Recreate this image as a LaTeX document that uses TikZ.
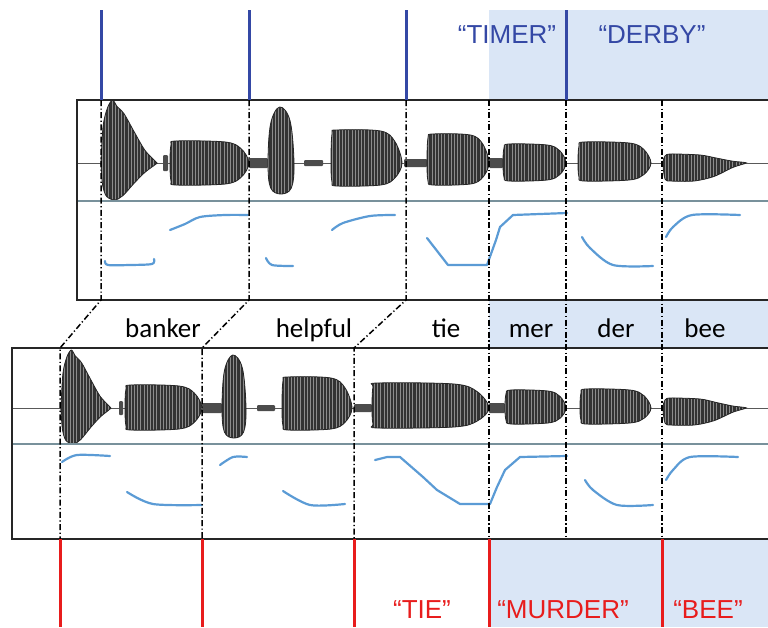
\documentclass[tikz,border=0pt]{standalone}
\usepackage{fontspec}
\setmainfont{Liberation Sans}
\newfontfamily\syllfont{Carlito}
\usetikzlibrary{positioning,calc,patterns.meta}

\definecolor{wordblue}{RGB}{52,72,165}
\definecolor{wordred}{RGB}{232,28,28}
\definecolor{focus}{RGB}{218,230,246}
\definecolor{fzero}{RGB}{91,155,213}
\definecolor{tiergray}{RGB}{120,145,155}

% waveform shapes: x left, x right, top, bottom, zero line
\newcommand\vowelpath[5]{plot[smooth cycle,tension=0.55] coordinates {(#1,#5) (#1+1,#3+4) (#1+6,#3) ({#1+0.7*(#2-#1)},#3+1) ({#1+0.9*(#2-#1)},{#3+0.35*(#5-#3)}) (#2,#5) ({#1+0.9*(#2-#1)},{#4-0.35*(#4-#5)}) ({#1+0.7*(#2-#1)},#4-1) (#1+6,#4) (#1+1,#4-4)}}
\newcommand\burstpath[5]{plot[smooth cycle,tension=0.5] coordinates {(#1,#5-2) ({#1+0.04*(#2-#1)},{#5-0.6*(#5-#3)}) ({#1+0.12*(#2-#1)},{#5-0.88*(#5-#3)}) ({#1+0.21*(#2-#1)},#3) ({#1+0.29*(#2-#1)},{#5-0.9*(#5-#3)}) ({#1+0.42*(#2-#1)},{#5-0.78*(#5-#3)}) ({#1+0.6*(#2-#1)},{#5-0.5*(#5-#3)}) ({#1+0.8*(#2-#1)},{#5-0.2*(#5-#3)}) (#2,#5-1) (#2,#5+1) ({#1+0.8*(#2-#1)},{#5+0.25*(#4-#5)}) ({#1+0.6*(#2-#1)},{#5+0.55*(#4-#5)}) ({#1+0.4*(#2-#1)},{#5+0.88*(#4-#5)}) ({#1+0.25*(#2-#1)},#4) ({#1+0.1*(#2-#1)},{#5+0.9*(#4-#5)}) ({#1+0.03*(#2-#1)},{#5+0.6*(#4-#5)}) (#1,#5+2)}}
\newcommand\pulsepath[5]{plot[smooth cycle,tension=0.6] coordinates {(#1,#5) ({#1+0.1*(#2-#1)},{#5-0.7*(#5-#3)}) ({#1+0.45*(#2-#1)},#3) ({#1+0.85*(#2-#1)},{#5-0.75*(#5-#3)}) (#2,#5) ({#1+0.9*(#2-#1)},{#5+0.8*(#4-#5)}) ({#1+0.5*(#2-#1)},#4) ({#1+0.1*(#2-#1)},{#5+0.8*(#4-#5)})}}
\newcommand\tailpath[5]{plot[smooth cycle,tension=0.5] coordinates {(#1,#5) (#1+2,#3+2) (#1+8,#3) ({#1+0.45*(#2-#1)},#3+1) ({#1+0.65*(#2-#1)},{#5-0.55*(#5-#3)}) ({#1+0.85*(#2-#1)},{#5-0.2*(#5-#3)}) (#2,#5-0.5) (#2,#5+0.5) ({#1+0.85*(#2-#1)},{#5+0.25*(#4-#5)}) ({#1+0.62*(#2-#1)},{#5+0.75*(#4-#5)}) ({#1+0.38*(#2-#1)},#4) (#1+8,#4) (#1+2,#4-2)}}
\newcommand\wave[1]{%
  \begin{scope}
    \clip #1;
    \fill[black!80] (0,0) rectangle (768,627);
    \path[pattern={Lines[angle=90,distance=3.2pt,line width=0.8pt]},pattern color=black!45] (0,0) rectangle (768,627);
  \end{scope}
  \draw[waveedge] #1;}
\newcommand\hiss[4]{\fill[black!70,rounded corners=1pt] (#1,#4-#3) rectangle (#2,#4+#3);}

\begin{document}
\begin{tikzpicture}[
    x=1pt,y=-1pt,
    box/.style={draw=black!85,line width=1.5pt},
    tier/.style={draw=tiergray,line width=2.2pt},
    zeroline/.style={draw=black!65,line width=1pt},
    seg/.style={line width=1.5pt,dash pattern=on 6pt off 2.5pt on 1.2pt off 2.5pt},
    bluebound/.style={draw=wordblue,line width=3pt},
    redbound/.style={draw=wordred,line width=3pt},
    pitch/.style={draw=fzero,line width=2.2pt,line cap=round,line join=round},
    waveedge/.style={draw=black!85,line width=0.8pt},
    toplab/.style={text=wordblue,font=\fontsize{26}{30}\selectfont,anchor=base,inner sep=0pt},
    botlab/.style={text=wordred,font=\fontsize{26}{30}\selectfont,anchor=base,inner sep=0pt},
    syll/.style={font=\syllfont\fontsize{27}{32}\selectfont,anchor=base,inner sep=0pt}
    ]
        \useasboundingbox (0,0) rectangle (768,627);
        % focus regions
        \fill[focus] (489,10) rectangle (768,100);
        \fill[focus] (489,300) rectangle (768,348);
        \fill[focus] (489,539) rectangle (768,627);

        % upper panel
        \draw[zeroline] (77,163) -- (768,163);
        \wave{\burstpath{101}{156}{100}{200}{163}}
        \hiss{163}{168}{8}{163}
        \wave{\vowelpath{170}{249}{141}{185}{163}}
        \hiss{249}{268}{5}{163}
        \wave{\pulsepath{268}{294}{107}{194}{163}}
        \hiss{304}{323}{3}{163}
        \wave{\vowelpath{331}{402}{130}{186}{163}}
        \hiss{404}{427}{4}{163}
        \wave{\vowelpath{427}{489}{134}{185}{163}}
        \hiss{489}{503}{5}{163}
        \wave{\vowelpath{503}{566}{144}{181}{163}}
        \wave{\vowelpath{578}{651}{142}{181}{163}}
        \wave{\tailpath{663}{745}{154}{181}{163}}
        \draw[tier] (77,201) -- (768,201);
        \draw[pitch] plot[smooth] coordinates {(105,261) (108,265) (130,265) (152,264) (154,259)};
        \draw[pitch] plot[smooth] coordinates {(170,230) (185,224) (200,217) (225,215) (248,215)};
        \draw[pitch] plot[smooth] coordinates {(266,258) (272,265) (293,266)};
        \draw[pitch] plot[smooth] coordinates {(332,230) (343,223) (370,216) (395,215)};
        \draw[pitch] plot coordinates {(427,238) (448,265) (487,265) (496,240) (500,227) (513,215) (567,213)};
        \draw[pitch] plot[smooth] coordinates {(582,237) (590,248) (613,265) (653,266)};
        \draw[pitch] plot[smooth] coordinates {(666,237) (673,227) (692,215) (740,215)};
        \draw[box] (768,100) -| (77,300) -- (768,300);

        % lower panel
        \draw[zeroline] (12,408) -- (768,408);
        \wave{\burstpath{61}{110}{350}{444}{408}}
        \hiss{119}{123}{7}{408}
        \wave{\vowelpath{125}{202}{385}{430}{408}}
        \hiss{202}{222}{5}{408}
        \wave{\pulsepath{222}{246}{355}{438}{408}}
        \hiss{257}{275}{3}{408}
        \wave{\vowelpath{282}{352}{377}{430}{408}}
        \hiss{354}{372}{4}{408}
        \wave{\vowelpath{372}{489}{383}{428}{408}}
        \hiss{489}{505}{5}{408}
        \wave{\vowelpath{505}{566}{390}{424}{408}}
        \wave{\vowelpath{580}{651}{389}{424}{408}}
        \wave{\tailpath{663}{745}{398}{425}{408}}
        \draw[tier] (12,444) -- (768,444);
        \draw[pitch] plot[smooth] coordinates {(62,462) (77,455) (110,456)};
        \draw[pitch] plot[smooth] coordinates {(127,492) (153,504) (202,505)};
        \draw[pitch] plot[smooth] coordinates {(220,465) (233,457) (247,457)};
        \draw[pitch] plot[smooth] coordinates {(283,491) (310,505) (345,504)};
        \draw[pitch] plot coordinates {(375,460) (387,457) (400,457) (423,477) (437,490) (460,504) (490,504) (497,487) (505,470) (520,457) (567,456)};
        \draw[pitch] plot[smooth] coordinates {(585,480) (593,490) (617,505) (653,505)};
        \draw[pitch] plot[smooth] coordinates {(666,480) (673,470) (690,457) (738,457)};
        \draw[box] (768,348) -| (12,539) -- (768,539);

        % boundaries
        \foreach \i/\xa/\xb in {1/101/60,2/249/202,3/406/354,4/489/489,5/566/566,6/662/662} {
            \coordinate (u\i) at (\xa,10);
            \coordinate (t\i) at (\xa,100);
            \coordinate (m\i) at (\xa,300);
            \coordinate (n\i) at (\xb,348);
            \coordinate (b\i) at (\xb,539);
            \coordinate (d\i) at (\xb,627);
            \draw[seg] (t\i) -- (m\i) -- (n\i) -- (b\i);
        }
        \foreach \i in {1,2,3,5} \draw[bluebound] (u\i) -- (t\i);
        \foreach \i in {1,2,3,4,6} \draw[redbound] (b\i) -- (d\i);

        % labels
        \node[toplab] (timer) at (507,43) {“TIMER”};
        \node[toplab] (derby) at (652,43) {“DERBY”};
        \node[syll] (banker) at (163,337) {banker};
        \node[syll] (helpful) at (314,337) {helpful};
        \node[syll] (tie) at (446,337) {tie};
        \node[syll] (mer) at (531,337) {mer};
        \node[syll] (der) at (616,337) {der};
        \node[syll] (bee) at (705,337) {bee};
        \node[botlab] (tieword) at (422,618) {“TIE”};
        \node[botlab] (murder) at (563,618) {“MURDER”};
        \node[botlab] (beeword) at (708,618) {“BEE”};
\end{tikzpicture}
\end{document}
